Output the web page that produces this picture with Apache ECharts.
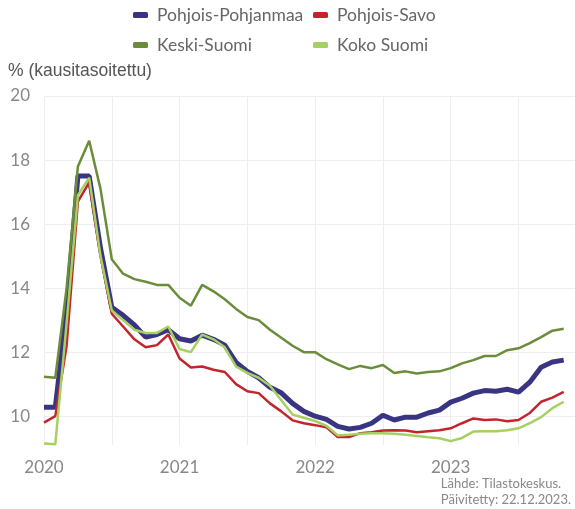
<!DOCTYPE html>
<html>
<head>
<meta charset="utf-8">
<script src="https://cdn.jsdelivr.net/npm/echarts@6/dist/echarts.min.js"></script>
<style>
  html, body { margin: 0; padding: 0; background: #fff; }
  #chart { width: 575px; height: 509px; }
</style>
</head>
<body>
<div id="chart"></div>
<script>
// kuukaudet 2020-01 ... 2023-12 (viimeiselle ei vielä arvoa)
const months = [];
for (let y = 2020; y <= 2023; y++) {
  for (let m = 1; m <= 12; m++) months.push(y + '-' + (m < 10 ? '0' + m : m));
}

const pohjoisPohjanmaa = [
  10.28, 10.28, 13.3, 17.5, 17.5, 15.25, 13.4, 13.15, 12.85, 12.47, 12.55, 12.7,
  12.42, 12.35, 12.53, 12.4, 12.22, 11.68, 11.4, 11.2, 10.9, 10.73, 10.4, 10.15,
  10.0, 9.9, 9.68, 9.6, 9.65, 9.78, 10.03, 9.88, 9.97, 9.97, 10.1, 10.19,
  10.44, 10.56, 10.72, 10.8, 10.78, 10.84, 10.75, 11.06, 11.53, 11.69, 11.75
];
const pohjoisSavo = [
  9.8, 10.0, 12.2, 16.7, 17.3, 15.0, 13.2, 12.8, 12.4, 12.15, 12.22, 12.55,
  11.8, 11.52, 11.55, 11.45, 11.38, 11.0, 10.78, 10.72, 10.4, 10.15, 9.87, 9.78,
  9.72, 9.65, 9.35, 9.35, 9.47, 9.5, 9.55, 9.56, 9.55, 9.5, 9.53, 9.56,
  9.62, 9.78, 9.93, 9.88, 9.9, 9.84, 9.88, 10.1, 10.45, 10.58, 10.76
];
const keskiSuomi = [
  11.23, 11.2, 14.0, 17.8, 18.6, 17.1, 14.9, 14.45, 14.28, 14.2, 14.1, 14.1,
  13.7, 13.45, 14.1, 13.9, 13.65, 13.35, 13.1, 13.0, 12.7, 12.45, 12.2, 12.0,
  12.0, 11.78, 11.62, 11.47, 11.57, 11.5, 11.6, 11.35, 11.4, 11.33, 11.38, 11.4,
  11.5, 11.65, 11.75, 11.88, 11.88, 12.06, 12.12, 12.28, 12.47, 12.67, 12.73
];
const kokoSuomi = [
  9.15, 9.12, 12.9, 16.9, 17.45, 15.0, 13.3, 13.0, 12.7, 12.6, 12.6, 12.8,
  12.1, 12.0, 12.55, 12.4, 12.15, 11.55, 11.35, 11.2, 10.95, 10.5, 10.05, 9.95,
  9.85, 9.7, 9.4, 9.42, 9.45, 9.47, 9.47, 9.45, 9.42, 9.38, 9.34, 9.31,
  9.22, 9.32, 9.52, 9.53, 9.53, 9.56, 9.62, 9.78, 9.97, 10.25, 10.45
];

const colors = {
  'Pohjois-Pohjanmaa': '#3a3582',
  'Pohjois-Savo': '#c3252d',
  'Keski-Suomi': '#6b8d3b',
  'Koko Suomi': '#a6d062'
};

const font = 'Lato, "Open Sans", sans-serif';
const chart = echarts.init(document.getElementById('chart'));

function legendAt(name, left, top) {
  return {
    data: [name],
    left: left,
    top: top,
    icon: 'roundRect',
    itemWidth: 15,
    itemHeight: 6,
    itemGap: 0,
    padding: 0,
    selectedMode: false,
    textStyle: { color: '#666', fontSize: 17.5, fontFamily: font, padding: [0, 0, 0, 4] }
  };
}

function line(name, data, width) {
  return {
    name: name,
    type: 'line',
    data: data,
    symbol: 'none',
    color: colors[name],
    lineStyle: { width: width, color: colors[name] },
    animation: false
  };
}

chart.setOption({
  animation: false,
  legend: [
    legendAt('Pohjois-Pohjanmaa', 133, 6),
    legendAt('Pohjois-Savo', 313, 6),
    legendAt('Keski-Suomi', 133, 36),
    legendAt('Koko Suomi', 313, 36)
  ],
  grid: { left: 44, top: 96, width: 533, bottom: 64, containLabel: false },
  xAxis: {
    type: 'category',
    data: months,
    boundaryGap: false,
    axisLine: { show: false },
    axisTick: { show: false },
    axisLabel: {
      interval: 11,
      margin: 14,
      color: '#888',
      fontSize: 17,
      fontFamily: font,
      formatter: v => v.slice(0, 4)
    },
    splitLine: { show: true, interval: 5, lineStyle: { color: '#eeeeee', width: 1 } }
  },
  yAxis: {
    type: 'value',
    min: 9.1,
    max: 20,
    minInterval: 2,
    maxInterval: 2,
    axisLine: { show: false },
    axisTick: { show: false },
    axisLabel: {
      showMinLabel: false,
      margin: 14,
      color: '#888',
      fontSize: 17,
      fontFamily: font
    },
    splitLine: { show: true, showMinLine: false, lineStyle: { color: '#eeeeee', width: 1 } }
  },
  graphic: [
    {
      type: 'text', left: 8, top: 62,
      style: { text: '% (kausitasoitettu)', fill: '#555', fontSize: 17.5, fontFamily: 'Liberation Sans, Arial, sans-serif' }
    },
    {
      type: 'text', right: 4, top: 476,
      style: { text: 'Lähde: Tilastokeskus.\nPäivitetty: 22.12.2023.', fill: '#888', fontSize: 13, lineHeight: 16, align: 'right', fontFamily: font }
    }
  ],
  series: [
    line('Pohjois-Pohjanmaa', pohjoisPohjanmaa, 5),
    line('Pohjois-Savo', pohjoisSavo, 2.5),
    line('Keski-Suomi', keskiSuomi, 2.5),
    line('Koko Suomi', kokoSuomi, 2.5)
  ]
});
</script>
</body>
</html>
